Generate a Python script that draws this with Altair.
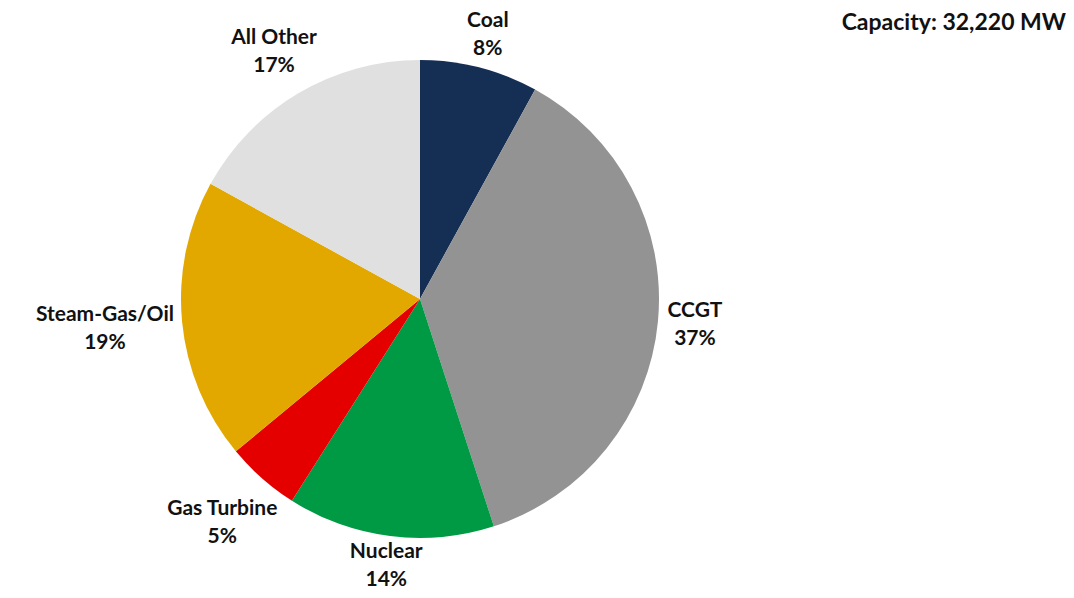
import altair as alt
import pandas as pd

categories = ["Coal", "CCGT", "Nuclear", "Gas Turbine", "Steam-Gas/Oil", "All Other"]
shares = [8, 37, 14, 5, 19, 17]
colors = ["#142E54", "#939393", "#009A44", "#E50000", "#E2A800", "#E0E0E0"]
title_text = "Capacity: 32,220 MW"

df = pd.DataFrame({
    "category": categories,
    "value": shares,
    "idx": list(range(len(categories))),
    "label": [f"{c}\n{v}%" for c, v in zip(categories, shares)],
})

FONT = "Lato"
R = 239
CX, CY = 412, 291

pie = alt.Chart(df).mark_arc(outerRadius=R).encode(
    theta=alt.Theta("value:Q", stack=True),
    order=alt.Order("idx:Q"),
    color=alt.Color("category:N", scale=alt.Scale(domain=categories, range=colors), legend=None),
    x=alt.value(CX),
    y=alt.value(CY),
)

D = R + 6
labels = (
    alt.Chart(df)
    .transform_joinaggregate(total="sum(value)")
    .transform_window(cum="sum(value)", sort=[alt.SortField("idx")], frame=[None, 0])
    .transform_calculate(mid="(datum.cum - datum.value/2) / datum.total * 2 * PI")
    .transform_calculate(a="abs(sin(datum.mid))", b="abs(cos(datum.mid))",
                         w="max(length(datum.category) * 5.4, 30)", h="22")
    .transform_calculate(
        r1=f"({D} + datum.h) / datum.b",
        r2=f"({D} + datum.w) / datum.a",
        k="datum.a * datum.w + datum.b * datum.h",
    )
    .transform_calculate(
        r3=f"datum.k + sqrt(datum.k * datum.k - (datum.w * datum.w + datum.h * datum.h - {D * D}))"
    )
    .transform_calculate(
        lr="datum.r1 * datum.a <= datum.w ? datum.r1 : (datum.r2 * datum.b <= datum.h ? datum.r2 : datum.r3)"
    )
    .mark_text(font=FONT, fontSize=21, fontWeight="bold", color="#111111",
               lineBreak="\n", lineHeight=28, align="center", baseline="middle", dy=-14)
    .encode(
        theta=alt.Theta("mid:Q", scale=None),
        radius=alt.Radius("lr:Q", scale=None),
        text=alt.Text("label:N"),
        x=alt.value(CX),
        y=alt.value(CY),
    )
)

title = alt.Chart(pd.DataFrame({"t": [title_text]})).mark_text(
    font=FONT, fontSize=23, fontWeight="bold", color="#111111", align="right", baseline="middle"
).encode(
    text="t:N",
    x=alt.value(1058),
    y=alt.value(15),
)

chart = (
    alt.layer(pie, labels, title)
    .resolve_scale(theta="independent", radius="independent")
    .properties(width=1058, height=582, padding=0,
                autosize=alt.AutoSizeParams(type="none"))
    .configure_view(stroke=None)
)

chart.save("out.html", embed_options={"renderer": "svg", "actions": False})
